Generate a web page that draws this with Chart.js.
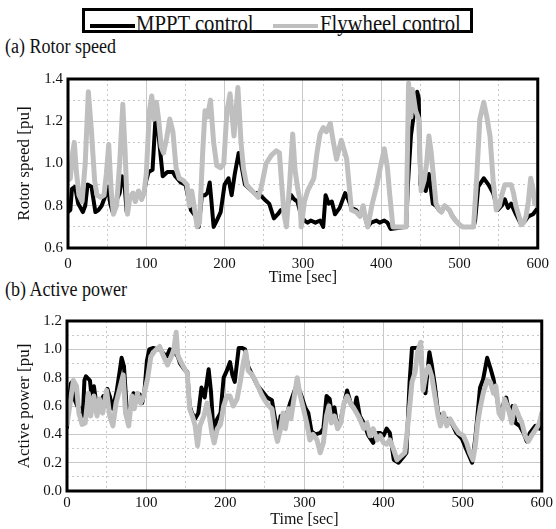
<!DOCTYPE html>
<html>
<head>
<meta charset="utf-8">
<script src="https://cdn.jsdelivr.net/npm/chart.js@4.4.1/dist/chart.umd.min.js"></script>
<style>
  body { margin: 0; background: #fff; }
  #wrap { position: relative; width: 556px; height: 529px; overflow: hidden;
          font-family: "Liberation Serif", "Times New Roman", serif; color: #111; }
  canvas { position: absolute; left: 0; }
  .txt { position: absolute; white-space: nowrap; transform: scaleX(0.9); transform-origin: left top; }
  .sub { font-size: 20px; line-height: 20px; left: 5px; }
  #legend { position: absolute; left: 82px; top: 8px; width: 385px; height: 19px; border: 3px solid #000; }
  .swatch { position: absolute; height: 4px; width: 45px; top: 24px; }
  .leg { font-size: 23px; line-height: 23px; top: 12px; }
</style>
</head>
<body>
<div id="wrap">
  <div id="legend"></div>
  <div class="swatch" style="left:90px;background:#000"></div>
  <div class="txt leg" style="left:136px">MPPT control</div>
  <div class="swatch" style="left:273px;background:#bfbfbf"></div>
  <div class="txt leg" style="left:320px">Flywheel control</div>
  <div class="txt sub" style="top:36px">(a) Rotor speed</div>
  <div class="txt sub" style="top:279px">(b) Active power</div>
  <canvas id="speed" width="556" height="290" style="top:0"></canvas>
  <canvas id="power" width="556" height="239" style="top:290px"></canvas>
</div>
<script>
// [time sec, value pu]
const speedMppt = [[0,0.77],[3,0.78],[5,0.88],[9,0.89],[13,0.81],[19,0.77],[22,0.80],[25,0.90],[30,0.89],[35,0.77],[39,0.78],[43,0.80],[48,0.85],[51,0.89],[54,0.81],[57,0.77],[60,0.81],[66,0.86],[69,0.94],[72,0.91],[75,0.77],[79,0.84],[83,0.86],[86,0.82],[90,0.87],[94,0.83],[97,0.86],[100,0.92],[103,0.96],[108,0.97],[112,1.23],[115,1.16],[118,1.05],[121,0.94],[127,0.96],[134,0.96],[137,0.94],[144,0.91],[150,0.90],[153,0.85],[157,0.78],[163,0.75],[167,0.70],[171,0.85],[175,0.85],[178,0.86],[181,0.91],[183,0.83],[186,0.70],[190,0.73],[195,0.77],[200,0.90],[205,0.93],[209,0.85],[213,0.95],[218,1.05],[222,0.98],[226,0.90],[232,0.88],[238,0.86],[243,0.86],[251,0.83],[257,0.81],[263,0.74],[268,0.76],[272,0.78],[276,0.78],[280,0.80],[285,0.85],[289,0.83],[293,0.82],[298,0.75],[302,0.73],[306,0.72],[310,0.73],[316,0.72],[322,0.73],[326,0.70],[329,0.85],[333,0.81],[337,0.82],[341,0.76],[347,0.79],[354,0.86],[358,0.83],[362,0.79],[368,0.78],[373,0.75],[377,0.78],[383,0.70],[387,0.72],[394,0.73],[398,0.72],[404,0.73],[408,0.72],[412,0.69],[432,0.70],[434,0.89],[438,1.13],[443,1.27],[446,1.34],[448,1.31],[450,0.90],[454,0.88],[457,0.87],[461,0.95],[466,0.81],[470,0.80],[474,0.78],[477,0.77],[481,0.80],[487,0.78],[491,0.75],[495,0.73],[500,0.71],[504,0.70],[518,0.70],[520,0.73],[524,0.89],[531,0.93],[537,0.90],[543,0.86],[549,0.78],[554,0.80],[558,0.83],[562,0.79],[566,0.81],[572,0.76],[579,0.71],[584,0.73],[588,0.75],[594,0.76],[600,0.79]];

const speedFly = [[0,0.92],[3,0.93],[6,1.05],[8,1.10],[11,0.95],[14,0.85],[18,0.82],[22,1.00],[26,1.34],[30,1.15],[34,0.92],[37,0.85],[42,0.84],[46,0.85],[49,0.95],[52,1.09],[55,0.88],[58,0.76],[62,0.80],[66,1.00],[70,1.28],[73,1.05],[76,0.76],[79,0.84],[83,0.86],[86,0.82],[90,0.87],[94,0.83],[97,0.86],[100,0.95],[104,1.25],[107,1.32],[110,1.21],[113,1.29],[116,1.20],[119,1.08],[122,1.05],[126,1.12],[130,1.21],[134,1.15],[138,0.98],[142,0.93],[147,0.92],[152,0.90],[155,0.80],[158,0.87],[161,0.80],[165,0.70],[168,0.72],[172,1.05],[175,1.25],[178,1.22],[182,1.30],[186,1.10],[190,0.99],[195,0.98],[199,1.00],[203,1.25],[207,1.33],[212,1.13],[217,1.36],[221,1.10],[224,0.98],[228,0.90],[233,0.88],[238,0.86],[243,0.84],[247,0.89],[253,1.00],[260,1.04],[266,1.06],[270,1.05],[273,0.90],[276,0.76],[279,0.70],[283,0.90],[287,1.14],[290,0.97],[293,0.89],[296,0.83],[298,0.70],[302,0.82],[306,0.87],[310,0.90],[314,0.93],[318,1.05],[322,1.14],[326,1.17],[330,1.15],[335,1.19],[339,1.10],[343,1.02],[349,1.11],[353,1.06],[356,1.02],[359,0.90],[362,0.78],[368,0.77],[373,0.75],[377,0.80],[380,0.74],[383,0.70],[388,0.80],[394,0.89],[400,1.00],[404,1.07],[408,0.98],[411,0.85],[415,0.70],[432,0.70],[435,1.38],[438,1.22],[440,1.35],[444,1.25],[448,1.21],[451,0.87],[455,0.92],[458,1.00],[461,1.13],[464,1.05],[466,0.97],[470,0.81],[474,0.78],[477,0.77],[481,0.80],[487,0.78],[491,0.75],[495,0.73],[500,0.71],[504,0.70],[518,0.70],[522,0.93],[526,1.21],[531,1.29],[535,1.22],[539,1.13],[543,0.92],[547,0.78],[551,0.80],[554,0.85],[558,0.90],[566,0.90],[569,0.86],[572,0.80],[576,0.75],[579,0.71],[582,0.72],[585,0.75],[588,0.82],[591,0.93],[594,0.88],[596,0.81],[600,0.80]];

const powerMppt = [[0,0.45],[2,0.61],[5,0.76],[8,0.78],[10,0.64],[13,0.60],[17,0.58],[20,0.53],[22,0.78],[24,0.81],[29,0.78],[31,0.67],[34,0.74],[38,0.58],[42,0.62],[46,0.67],[50,0.60],[51,0.72],[54,0.67],[58,0.58],[63,0.71],[67,0.86],[69,0.94],[72,0.88],[75,0.62],[77,0.48],[81,0.62],[84,0.69],[88,0.67],[92,0.68],[95,0.62],[98,0.71],[101,0.92],[104,1.00],[109,1.01],[114,1.00],[118,1.00],[122,0.97],[126,0.95],[130,1.00],[133,0.99],[137,0.97],[140,0.95],[143,0.90],[148,0.86],[152,0.84],[155,0.60],[158,0.55],[162,0.51],[166,0.55],[170,0.73],[174,0.66],[179,0.86],[182,0.70],[185,0.43],[189,0.50],[194,0.55],[198,0.80],[202,0.85],[206,0.91],[209,0.82],[212,0.77],[217,1.01],[221,1.01],[225,1.00],[229,0.88],[234,0.82],[240,0.75],[246,0.71],[253,0.66],[259,0.64],[263,0.51],[267,0.42],[270,0.53],[276,0.51],[282,0.62],[287,0.70],[290,0.74],[293,0.72],[297,0.66],[301,0.59],[305,0.55],[309,0.42],[314,0.40],[320,0.41],[324,0.44],[328,0.67],[332,0.65],[335,0.53],[338,0.59],[341,0.48],[345,0.48],[350,0.61],[354,0.71],[359,0.61],[363,0.58],[366,0.66],[370,0.53],[375,0.48],[381,0.39],[387,0.34],[391,0.41],[396,0.41],[400,0.39],[404,0.44],[408,0.41],[413,0.22],[419,0.20],[425,0.24],[429,0.27],[433,0.77],[436,1.01],[442,1.01],[447,1.02],[450,0.75],[453,0.69],[458,0.98],[461,0.89],[465,0.74],[469,0.55],[474,0.53],[480,0.51],[486,0.48],[492,0.41],[499,0.37],[505,0.29],[512,0.20],[516,0.37],[519,0.55],[522,0.73],[526,0.79],[531,0.94],[535,0.87],[539,0.79],[543,0.67],[547,0.54],[552,0.62],[555,0.66],[559,0.55],[563,0.60],[567,0.48],[572,0.46],[577,0.41],[581,0.35],[585,0.41],[592,0.46],[597,0.44],[600,0.51]];

const powerFly = [[0,0.47],[4,0.62],[8,0.78],[12,0.74],[15,0.55],[19,0.47],[23,0.48],[27,0.69],[30,0.53],[34,0.67],[38,0.53],[41,0.65],[45,0.55],[50,0.71],[54,0.53],[58,0.46],[62,0.62],[67,0.73],[71,0.82],[74,0.55],[78,0.46],[82,0.67],[85,0.58],[89,0.69],[93,0.62],[97,0.67],[102,0.80],[106,0.95],[111,0.99],[117,1.02],[122,0.95],[127,0.89],[132,0.95],[135,1.00],[138,1.12],[140,0.96],[144,0.91],[148,0.87],[152,0.83],[155,0.58],[159,0.52],[162,0.46],[165,0.32],[168,0.46],[173,0.53],[177,0.62],[180,0.53],[183,0.41],[186,0.34],[190,0.44],[194,0.47],[198,0.60],[202,0.67],[206,0.67],[210,0.60],[215,0.65],[219,0.77],[223,0.91],[226,0.98],[229,0.85],[234,0.82],[238,0.78],[242,0.73],[246,0.68],[250,0.64],[255,0.60],[259,0.58],[263,0.42],[266,0.35],[270,0.44],[273,0.55],[276,0.44],[280,0.58],[283,0.51],[286,0.62],[291,0.80],[294,0.69],[298,0.60],[303,0.48],[307,0.36],[311,0.40],[316,0.36],[320,0.27],[324,0.34],[328,0.53],[331,0.60],[334,0.48],[338,0.53],[342,0.44],[346,0.48],[350,0.62],[354,0.67],[358,0.62],[362,0.59],[366,0.55],[370,0.51],[375,0.44],[379,0.48],[383,0.39],[387,0.44],[392,0.36],[396,0.39],[400,0.34],[404,0.33],[408,0.36],[413,0.29],[417,0.22],[421,0.24],[427,0.27],[432,0.53],[436,0.77],[440,0.84],[443,0.98],[447,1.05],[450,0.71],[454,0.84],[457,0.88],[461,0.81],[465,0.67],[469,0.53],[472,0.46],[476,0.55],[480,0.46],[484,0.51],[489,0.46],[495,0.41],[501,0.39],[505,0.34],[509,0.27],[513,0.22],[516,0.32],[519,0.48],[522,0.58],[526,0.69],[531,0.78],[535,0.77],[539,0.69],[542,0.74],[546,0.55],[550,0.51],[553,0.65],[558,0.58],[562,0.48],[566,0.60],[571,0.53],[575,0.48],[579,0.39],[583,0.35],[587,0.39],[593,0.44],[597,0.48],[600,0.55]];

const timeTicks = [0, 100, 200, 300, 400, 500, 600];
const speedTicks = [0.6, 0.8, 1.0, 1.2, 1.4];
const powerTicks = [0.0, 0.2, 0.4, 0.6, 0.8, 1.0, 1.2];

const FONT = '"Liberation Serif", "Times New Roman", serif';
const GRID = '#c8c8c8';

const frame = {
  id: 'frame',
  afterDraw(chart) {
    const { ctx, chartArea: a } = chart;
    ctx.save();
    ctx.strokeStyle = '#000';
    ctx.lineWidth = 3;
    ctx.strokeRect(a.left, a.top, a.right - a.left, a.bottom - a.top);
    ctx.restore();
  }
};

const toXY = arr => arr.map(p => ({ x: p[0], y: p[1] }));
const hasTick = (list, v) => list.some(t => Math.abs(t - v) < 1e-6);

function makeChart(id, opt) {
  return new Chart(document.getElementById(id), {
    type: 'line',
    data: {
      datasets: [
        { label: 'Flywheel control', data: toXY(opt.fly), borderColor: '#bfbfbf', borderWidth: 5, order: 0 },
        { label: 'MPPT control', data: toXY(opt.mppt), borderColor: '#000', borderWidth: 4, order: 1 }
      ]
    },
    options: {
      responsive: false,
      animation: false,
      events: [],
      elements: { point: { radius: 0 }, line: { tension: 0, borderJoinStyle: 'round', borderCapStyle: 'round' } },
      layout: { padding: opt.pad },
      plugins: { legend: { display: false }, tooltip: { enabled: false } },
      scales: {
        x: {
          type: 'linear', min: 0, max: 600,
          ticks: {
            stepSize: 50, autoSkip: false, maxRotation: 0, padding: opt.xTickPad,
            color: '#111', font: { family: FONT, size: 15 },
            callback: v => hasTick(timeTicks, v) ? String(v) : ''
          },
          grid: { color: GRID, lineWidth: 1, drawTicks: false },
          border: { display: false, dash: c => (c.tick && c.tick.value % 100 !== 0) ? [2, 3] : [] },
          title: { display: true, text: 'Time [sec]', color: '#111', font: { family: FONT, size: 16 }, padding: opt.xTitlePad },
          afterFit: s => { s.height = opt.xh; }
        },
        y: {
          min: opt.min, max: opt.max,
          ticks: {
            stepSize: 0.1, autoSkip: false, padding: 5,
            color: '#111', font: { family: FONT, size: 15 },
            callback: v => hasTick(opt.ticks, v) ? Number(v).toFixed(1) : ''
          },
          grid: { color: GRID, lineWidth: 1, drawTicks: false },
          border: { display: false, dash: c => (c.tick && Math.round(c.tick.value * 10) % 2 !== 0) ? [2, 3] : [] },
          title: { display: true, text: opt.yTitle, color: '#111', font: { family: FONT, size: 17 }, padding: 14 },
          afterFit: s => { s.width = opt.yw; }
        }
      }
    },
    plugins: [frame]
  });
}

makeChart('speed', {
  mppt: speedMppt, fly: speedFly, min: 0.6, max: 1.4, ticks: speedTicks,
  yTitle: 'Rotor speed [pu]', pad: { top: 79, left: 0, right: 13, bottom: 0 },
  xh: 42, yw: 68, xTickPad: 7, xTitlePad: 3
});

makeChart('power', {
  mppt: powerMppt, fly: powerFly, min: 0, max: 1.2, ticks: powerTicks,
  yTitle: 'Active power [pu]', pad: { top: 31, left: 0, right: 14, bottom: 0 },
  xh: 38, yw: 67, xTickPad: 3, xTitlePad: 0
});
</script>
</body>
</html>
